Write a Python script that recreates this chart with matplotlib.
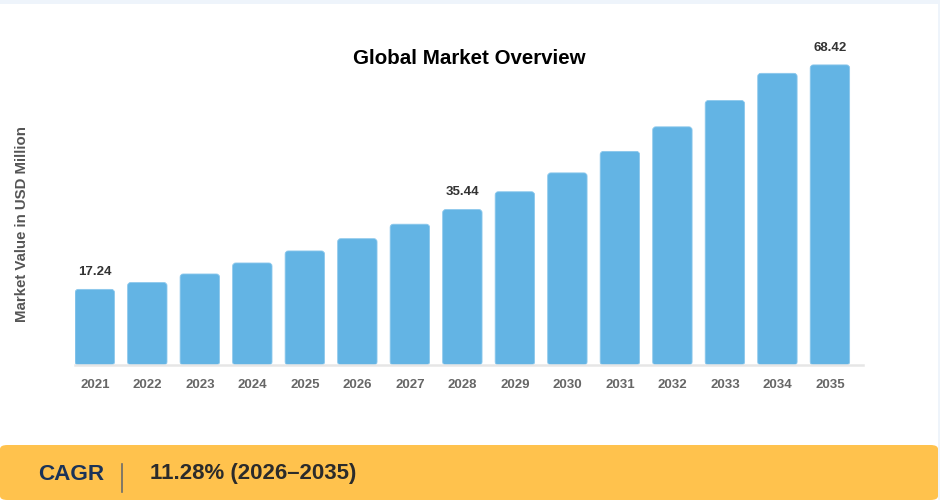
import matplotlib.pyplot as plt
from matplotlib.patches import FancyBboxPatch, Rectangle
from matplotlib.lines import Line2D

plt.rcParams["font.family"] = ["Liberation Sans", "DejaVu Sans"]

# datos
anios = ["2021", "2022", "2023", "2024", "2025", "2026", "2027", "2028",
         "2029", "2030", "2031", "2032", "2033", "2034", "2035"]
valores = [17.24, 18.8, 20.75, 23.26, 26.0, 28.8, 32.1, 35.44,
           39.5, 43.8, 48.7, 54.3, 60.3, 66.5, 68.42]
etiquetados = ["2021", "2028", "2035"]
titulo = "Global Market Overview"
eje_y = "Market Value in USD Million"
cagr_texto = "11.28% (2026–2035)"

W, H = 940, 500
fig = plt.figure(figsize=(W / 100, H / 100), dpi=100, facecolor="#EEF4FB")

# tarjeta blanca y franja inferior
fig.patches.append(Rectangle((0, 0), 938 / W, 496 / H, transform=fig.transFigure,
                             facecolor="white", edgecolor="none", zorder=-3))
fig.patches.append(FancyBboxPatch((0, 0), 938 / W, 55 / H, transform=fig.transFigure,
                                  boxstyle="round,pad=0,rounding_size=0.008",
                                  facecolor="#FFC24D", edgecolor="none", zorder=-2))

ax = fig.add_axes([75 / W, 135 / H, 788 / W, 325 / H])
ax.set_facecolor("none")

x = list(range(len(anios)))
ancho = 0.75
barras = ax.bar(x, valores, width=ancho, color="#63B4E4")
ax.set_xlim(-0.377, 14.63)
ax.set_ylim(0, 74.1)

# esquinas redondeadas
fig.canvas.draw()
px_x = ax.transData.transform((1, 0))[0] - ax.transData.transform((0, 0))[0]
px_y = ax.transData.transform((0, 1))[1] - ax.transData.transform((0, 0))[1]
aspecto = px_x / px_y
for b in barras:
    b.set_visible(False)
    p = FancyBboxPatch((b.get_x(), b.get_y()), b.get_width(), b.get_height(),
                       boxstyle="round,pad=0,rounding_size=0.06",
                       mutation_aspect=aspecto,
                       facecolor="#63B4E4", edgecolor="#8CC8EC", linewidth=0.6)
    ax.add_patch(p)

for xi, anio, v in zip(x, anios, valores):
    if anio in etiquetados:
        ax.annotate(f"{v:.2f}", (xi, v), xytext=(0, 8), textcoords="offset points",
                    ha="center", va="bottom", fontsize=9.5, fontweight="bold",
                    color="#333333")

for lado in ["top", "right", "left"]:
    ax.spines[lado].set_visible(False)
ax.spines["bottom"].set_color("#E6E6E6")
ax.spines["bottom"].set_linewidth(1.8)
ax.set_yticks([])
ax.set_xticks(x, anios)
ax.tick_params(axis="x", length=0, pad=10, labelsize=9.5, labelcolor="#666666")
for t in ax.get_xticklabels():
    t.set_fontweight("bold")

fig.text(469 / W, 1 - 58 / H, titulo, ha="center", va="center",
         fontsize=14.8, fontweight="bold", color="black")
fig.text(22.5 / W, 1 - 224 / H, eje_y, rotation=90, ha="center", va="center",
         fontsize=10.8, fontweight="bold", color="#555555")

# franja CAGR
fig.text(38 / W, 1 - 474 / H, "CAGR", ha="left", va="center",
         fontsize=16.2, fontweight="bold", color="#1B3358")
fig.lines.append(Line2D([122 / W, 122 / W], [1 - 492 / H, 1 - 464 / H],
                        transform=fig.transFigure, color="#6B6B6B", linewidth=1.2))
fig.text(150 / W, 1 - 474 / H, cagr_texto, ha="left", va="center",
         fontsize=16, fontweight="bold", color="#2B2B2B")

fig.savefig("out.png", dpi=100, facecolor=fig.get_facecolor())
